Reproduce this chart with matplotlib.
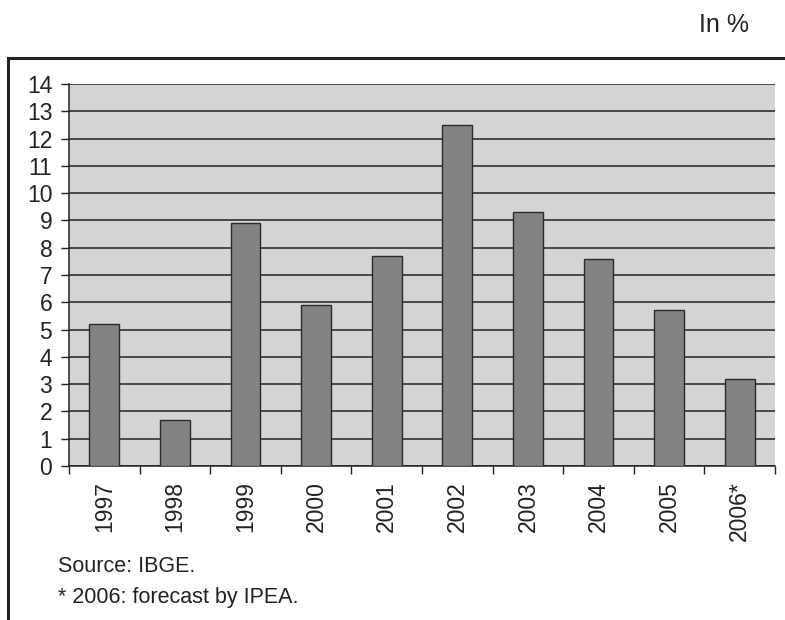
import numpy as np
import matplotlib.pyplot as plt
from matplotlib.lines import Line2D

plt.rcParams['font.family'] = ['Liberation Sans', 'DejaVu Sans']

years = ['1997', '1998', '1999', '2000', '2001', '2002', '2003', '2004', '2005', '2006*']
values = [5.2, 1.7, 8.9, 5.9, 7.7, 12.5, 9.3, 7.6, 5.7, 3.2]

fig = plt.figure(figsize=(7.85, 6.2), dpi=100)
ax = fig.add_axes([69/785, 154/620, 706/785, 382/620])
ax.set_facecolor('#d3d4d6')

x = np.arange(len(years))
ax.bar(x, values, width=0.42, color='#828385', edgecolor='#2a2a2a', linewidth=1.0, zorder=3)

ax.set_xlim(-0.5, len(years) - 0.5)
ax.set_ylim(0, 14)
ax.set_yticks(range(0, 15))
ax.yaxis.grid(True, color='#222222', linewidth=1.1, zorder=1)
ax.set_axisbelow(True)

# tick marks between categories, labels at the bar centres
ax.set_xticks(np.arange(-0.5, len(years)), labels=[''] * (len(years) + 1))
ax.set_xticks(x, labels=years, minor=True, rotation=90)
ax.tick_params(axis='x', which='major', length=6, width=1, color='#222222')
ax.tick_params(axis='x', which='minor', length=0, pad=11, labelsize=16.5, labelcolor='#222222')
ax.tick_params(axis='y', length=6, width=1, color='#222222', labelsize=16.5, pad=6,
               labelcolor='#222222')

for side in ['top', 'right']:
    ax.spines[side].set_visible(False)
for side in ['left', 'bottom']:
    ax.spines[side].set_color('#222222')
    ax.spines[side].set_linewidth(1.1)

# outer frame: top rule and left rule
fig.add_artist(Line2D([8/785, 1.0], [1 - 58/620, 1 - 58/620], transform=fig.transFigure,
                      color='#222222', linewidth=2.2))
fig.add_artist(Line2D([8/785, 8/785], [0, 1 - 58/620], transform=fig.transFigure,
                      color='#222222', linewidth=2.2))

fig.text(749/785, 1 - 25/620, 'In %', ha='right', va='center', fontsize=18, color='#222222')
fig.text(58/785, 1 - 567/620, 'Source: IBGE.', ha='left', va='center', fontsize=15.5, color='#222222')
fig.text(58/785, 1 - 597/620, '* 2006: forecast by IPEA.', ha='left', va='center', fontsize=15.5, color='#222222')

fig.savefig('out.png', dpi=100)
